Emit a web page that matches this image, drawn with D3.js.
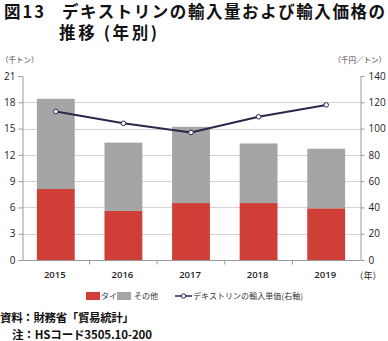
<!DOCTYPE html>
<html>
<head>
<meta charset="utf-8">
<script src="https://cdn.jsdelivr.net/npm/d3@7"></script>
<style>
  html, body { margin: 0; padding: 0; background: #fff; }
  svg { display: block; font-family: "Noto Sans CJK JP", "Noto Sans", sans-serif; }
</style>
</head>
<body>
<svg id="chart" width="388" height="341"></svg>
<script>
// Import volume (thousand tonnes) by origin, and unit price (thousand yen / tonne)
const years = ["2015", "2016", "2017", "2018", "2019"];
const thai = [8.1, 5.6, 6.5, 6.5, 5.9];
const others = [10.3, 7.8, 8.7, 6.8, 6.8];
const unitPrice = [113, 104, 97, 109, 118];
const leftTicks = [0, 3, 6, 9, 12, 15, 18, 21];
const rightTicks = [0, 20, 40, 60, 80, 100, 120, 140];

const colors = { thai: "#cf3e37", others: "#a5a5a5", line: "#262a4a", grid: "#d4d4d4", axis: "#9a9a9a", text: "#222" };

const svg = d3.select("#chart");
const margin = { left: 22, right: 28, top: 76, bottom: 81 };
const W = 388, H = 341;
const x0 = margin.left, x1 = W - margin.right;
const y0 = H - margin.bottom, y1 = margin.top;

const x = d3.scaleBand().domain(years).range([x0, x1]).paddingInner(0.44).paddingOuter(0.22);
const xOuter = d3.scaleBand().domain(years).range([x0, x1]);
const yL = d3.scaleLinear().domain([0, 21]).range([y0, y1]);
const yR = d3.scaleLinear().domain([0, 140]).range([y0, y1]);

// Title
const title = svg.append("g").attr("font-weight", "bold").attr("fill", "#111").attr("font-size", 16.5);
title.append("text").attr("x", 4).attr("y", 18).attr("textLength", 40).text("図13");
title.append("text").attr("x", 62).attr("y", 18).attr("textLength", 323).text("デキストリンの輸入量および輸入価格の");
title.append("text").attr("x", 59).attr("y", 39).attr("textLength", 98).text("推移 (年別)");

// Unit labels
svg.append("text").attr("x", 1).attr("y", 63).attr("font-size", 7.5).attr("fill", "#444").text("（千トン）");
svg.append("text").attr("x", 386).attr("y", 63).attr("text-anchor", "end").attr("font-size", 7.5).attr("fill", "#444").text("（千円／トン）");

// Horizontal grid lines (top tick has none)
svg.append("g").selectAll("line").data(leftTicks.filter(d => d > 0 && d < 21)).join("line")
  .attr("x1", x0).attr("x2", x1)
  .attr("y1", d => Math.round(yL(d)) + 0.5).attr("y2", d => Math.round(yL(d)) + 0.5)
  .attr("stroke", colors.grid).attr("stroke-width", 1);

// Stacked bars
const stack = years.map((yr, i) => ({ yr, thai: thai[i], others: others[i] }));
const bars = svg.append("g");
bars.selectAll("rect.thai").data(stack).join("rect").attr("class", "thai")
  .attr("x", d => x(d.yr)).attr("width", x.bandwidth())
  .attr("y", d => yL(d.thai)).attr("height", d => yL(0) - yL(d.thai))
  .attr("fill", colors.thai);
bars.selectAll("rect.others").data(stack).join("rect").attr("class", "others")
  .attr("x", d => x(d.yr)).attr("width", x.bandwidth())
  .attr("y", d => yL(d.thai + d.others)).attr("height", d => yL(d.thai) - yL(d.thai + d.others))
  .attr("fill", colors.others);

// Axes
const leftAxis = d3.axisLeft(yL).tickValues(leftTicks).tickSize(4).tickPadding(3);
const gL = svg.append("g").attr("transform", `translate(${x0 + 0.5},0)`).call(leftAxis);
const rightAxis = d3.axisRight(yR).tickValues(rightTicks).tickSize(4).tickPadding(4);
const gR = svg.append("g").attr("transform", `translate(${x1 + 0.5},0)`).call(rightAxis);
const bottomAxis = d3.axisBottom(xOuter).tickSize(4).tickPadding(7);
const gB = svg.append("g").attr("transform", `translate(0,${y0 + 0.5})`).call(bottomAxis);
// tick marks sit on category boundaries
gB.selectAll(".tick line").attr("transform", `translate(${xOuter.bandwidth() / 2},0)`)
  .attr("display", (d, i) => i === years.length - 1 ? "none" : null);
gB.selectAll(".tick text").attr("dx", -1);

[gL, gR, gB].forEach(g => {
  g.select(".domain").attr("stroke", colors.axis);
  g.selectAll(".tick line").attr("stroke", colors.axis);
  g.selectAll(".tick text").attr("font-size", 10).attr("fill", colors.text)
    .attr("font-family", "'Open Sans', 'Noto Sans', sans-serif");
});
gB.select(".domain").attr("d", `M${x0},0H${x1}`);
gB.selectAll(".tick text").attr("font-weight", 600).attr("font-size", 9.5);

svg.append("text").attr("x", 368).attr("y", y0 + 19).attr("text-anchor", "middle")
  .attr("font-size", 9).attr("fill", colors.text).text("（年）");

// Unit price line on the right axis
const line = d3.line().x((d, i) => x(years[i]) + x.bandwidth() / 2).y(d => yR(d));
svg.append("path").datum(unitPrice).attr("d", line)
  .attr("fill", "none").attr("stroke", colors.line).attr("stroke-width", 2);
svg.append("g").selectAll("circle").data(unitPrice).join("circle")
  .attr("cx", (d, i) => x(years[i]) + x.bandwidth() / 2).attr("cy", d => yR(d)).attr("r", 2.3)
  .attr("fill", "#fff").attr("stroke", colors.line).attr("stroke-width", 1);

// Legend
const lg = svg.append("g").attr("font-size", 8).attr("fill", "#333");
const ly = 296;
lg.append("rect").attr("x", 86).attr("y", ly - 4).attr("width", 14).attr("height", 8).attr("fill", colors.thai);
lg.append("text").attr("x", 101).attr("y", ly + 3).text("タイ");
lg.append("rect").attr("x", 117).attr("y", ly - 4).attr("width", 14).attr("height", 8).attr("fill", colors.others);
lg.append("text").attr("x", 134).attr("y", ly + 3).text("その他");
lg.append("line").attr("x1", 175).attr("x2", 192).attr("y1", ly).attr("y2", ly)
  .attr("stroke", colors.line).attr("stroke-width", 1.5);
lg.append("circle").attr("cx", 183.5).attr("cy", ly).attr("r", 2.2)
  .attr("fill", "#fff").attr("stroke", colors.line).attr("stroke-width", 1);
lg.append("text").attr("x", 193).attr("y", ly + 3).attr("textLength", 110).text("デキストリンの輸入単価(右軸)");

// Source and note
const src = svg.append("g").attr("font-size", 11.5).attr("fill", "#111").attr("font-weight", "bold");
src.append("text").attr("x", 0).attr("y", 322).attr("textLength", 134).text("資料：財務省「貿易統計」");
src.append("text").attr("x", 12).attr("y", 338.5).attr("textLength", 140).text("注：HSコード3505.10-200");
</script>
</body>
</html>
